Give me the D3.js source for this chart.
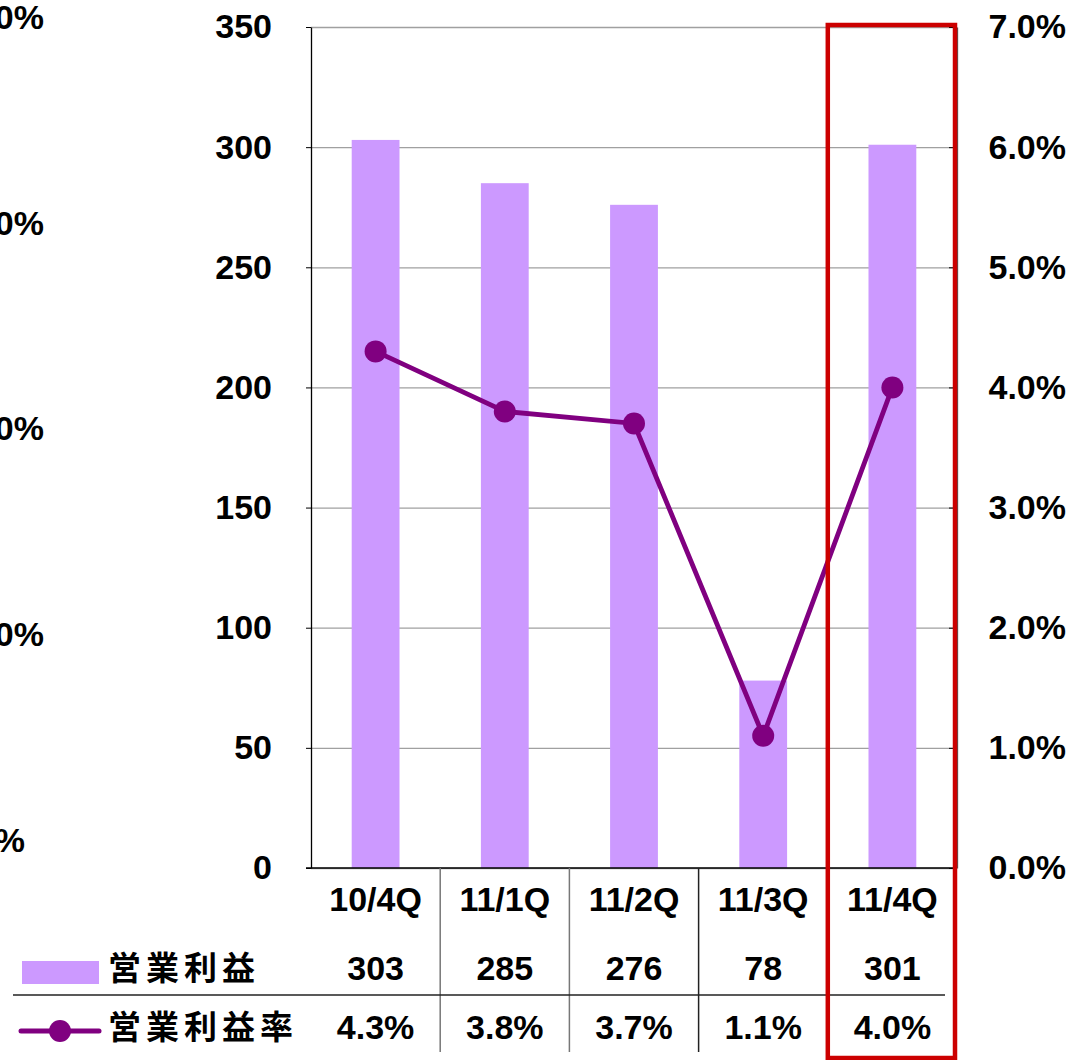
<!DOCTYPE html>
<html><head><meta charset="utf-8">
<script src="https://cdn.jsdelivr.net/npm/d3@7"></script>
<style>
body{margin:0;background:#fff;}
text{font-family:"Liberation Sans",Arial,sans-serif;font-weight:bold;fill:#000;}
.jp{font-family:"Noto Sans CJK JP",sans-serif;font-weight:bold;}
</style></head>
<body>
<svg id="c" width="1078" height="1060"></svg>
<script>
const categories = ["10/4Q","11/1Q","11/2Q","11/3Q","11/4Q"];
const profit = [303,285,276,78,301];
const margin = [0.043,0.038,0.037,0.011,0.040];
const profitLabels = ["303","285","276","78","301"];
const marginLabels = ["4.3%","3.8%","3.7%","1.1%","4.0%"];
const leftTicks = [0,50,100,150,200,250,300,350];
const rightTicks = [0,0.01,0.02,0.03,0.04,0.05,0.06,0.07];
const ghostLabels = ["20.0%","15.0%","10.0%","5.0%","0.0%"];
const seriesNames = ["営業利益","営業利益率"];

const svg = d3.select("#c");
const L=311,R=957,T=27,B=868;
const FS = "34px";
const x = d3.scaleBand().domain(categories).range([L,R]).paddingInner(0.63).paddingOuter(0.315);
const y = d3.scaleLinear().domain([0,350]).range([B,T]);
const y2 = d3.scaleLinear().domain([0,0.07]).range([B,T]);

// clipped ghost labels at far left
const ghostY = d3.scalePoint().domain(ghostLabels).range([17,840]);
svg.append("g").selectAll("text").data(ghostLabels).join("text")
  .attr("x",(d,i)=> i===ghostLabels.length-1 ? 25 : 44)
  .attr("y",d=>ghostY(d)).attr("dy","0.35em")
  .attr("text-anchor","end").style("font-size",FS).text(d=>d);

// gridlines
svg.append("g").attr("transform",`translate(${L},0)`)
  .call(d3.axisLeft(y).tickValues(leftTicks).tickSize(-(R-L)).tickFormat(""))
  .call(g=>g.select(".domain").remove())
  .call(g=>g.selectAll("line").attr("stroke","#a0a0a0").attr("stroke-width",1.3));

// bars
svg.append("g").selectAll("rect").data(profit).join("rect")
  .attr("x",(d,i)=>x(categories[i])).attr("width",x.bandwidth())
  .attr("y",d=>y(d)).attr("height",d=>B-y(d)).attr("fill","#cc99ff");

// left axis
const ax = svg.append("g").attr("transform",`translate(${L},0)`)
  .call(d3.axisLeft(y).tickValues(leftTicks).tickSize(5).tickPadding(34).tickSizeOuter(0));
ax.select(".domain").attr("stroke","#000").attr("stroke-width",1.3);
ax.selectAll("line").attr("stroke","#000");
ax.selectAll("text").style("font-size",FS).style("font-family","Liberation Sans, Arial").style("font-weight","bold");

// right axis
const ar = svg.append("g").attr("transform",`translate(${R},0)`)
  .call(d3.axisRight(y2).tickValues(rightTicks).tickSize(-8).tickSizeOuter(0).tickFormat(d3.format(".1%")));
ar.select(".domain").attr("stroke","#555").attr("stroke-width",1.3);
ar.selectAll("line").attr("stroke","#000");
ar.selectAll("text").attr("x",109).attr("text-anchor","end").style("font-size",FS).style("font-family","Liberation Sans, Arial").style("font-weight","bold");

// bottom axis line
svg.append("line").attr("x1",L-5).attr("x2",R).attr("y1",B).attr("y2",B).attr("stroke","#000").attr("stroke-width",1.3);

// line series
const lineGen = d3.line().x((d,i)=>x(categories[i])+x.bandwidth()/2).y(d=>y2(d));
svg.append("path").datum(margin).attr("d",lineGen).attr("fill","none").attr("stroke","#800080").attr("stroke-width",4.8);
svg.append("g").selectAll("circle").data(margin).join("circle")
  .attr("cx",(d,i)=>x(categories[i])+x.bandwidth()/2).attr("cy",d=>y2(d)).attr("r",11).attr("fill","#800080");

// table
const step = x.step();
const bounds = d3.range(1,categories.length).map(k=>L+k*step);
svg.append("g").selectAll("line").data(bounds).join("line")
  .attr("x1",d=>d).attr("x2",d=>d).attr("y1",B).attr("y2",1052)
  .attr("stroke",(d,i)=> i<2 ? "#777" : "#222").attr("stroke-width",1.5);
svg.append("line").attr("x1",13).attr("x2",945).attr("y1",995).attr("y2",995).attr("stroke","#222").attr("stroke-width",1.3);

const cx = c => x(c)+x.bandwidth()/2;
svg.append("g").selectAll("text").data(categories).join("text")
  .attr("x",d=>cx(d)).attr("y",899).attr("dy","0.36em").attr("text-anchor","middle")
  .style("font-size",FS).text(d=>d);
svg.append("g").selectAll("text").data(profitLabels).join("text")
  .attr("x",(d,i)=>cx(categories[i])).attr("y",968).attr("dy","0.36em").attr("text-anchor","middle")
  .style("font-size",FS).text(d=>d);
svg.append("g").selectAll("text").data(marginLabels).join("text")
  .attr("x",(d,i)=>cx(categories[i])).attr("y",1027).attr("dy","0.36em").attr("text-anchor","middle")
  .style("font-size",FS).text(d=>d);

// legend row labels
svg.append("rect").attr("x",22).attr("y",961).attr("width",77).attr("height",23).attr("fill","#cc99ff");
svg.append("line").attr("x1",21).attr("x2",99).attr("y1",1031).attr("y2",1031).attr("stroke","#800080").attr("stroke-width",5).attr("stroke-linecap","round");
svg.append("circle").attr("cx",60).attr("cy",1031).attr("r",11).attr("fill","#800080");
svg.append("text").attr("class","jp").attr("x",108).attr("y",968).attr("dy","0.36em")
  .style("font-size","33px").style("letter-spacing","5px").text(seriesNames[0]);
svg.append("text").attr("class","jp").attr("x",108).attr("y",1027).attr("dy","0.36em")
  .style("font-size","33px").style("letter-spacing","5px").text(seriesNames[1]);

// highlight box around last category
svg.append("rect").attr("x",bounds[bounds.length-1]).attr("y",25)
  .attr("width",R-2-bounds[bounds.length-1]).attr("height",1033)
  .attr("fill","none").attr("stroke","#cc0000").attr("stroke-width",4.5);
</script>
</body></html>
